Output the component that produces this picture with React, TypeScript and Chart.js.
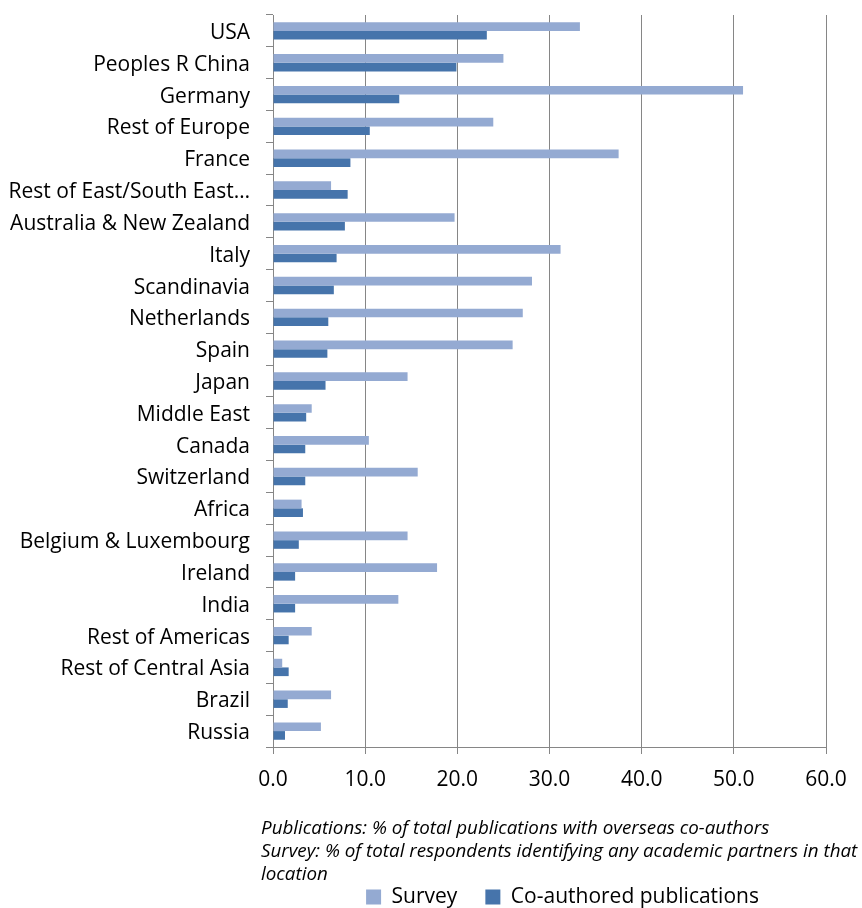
import React, { useEffect, useRef } from "react";
import { Chart, registerables } from "chart.js";

Chart.register(...registerables);

const categories = [
  "USA",
  "Peoples R China",
  "Germany",
  "Rest of Europe",
  "France",
  "Rest of East/South East…",
  "Australia & New Zealand",
  "Italy",
  "Scandinavia",
  "Netherlands",
  "Spain",
  "Japan",
  "Middle East",
  "Canada",
  "Switzerland",
  "Africa",
  "Belgium & Luxembourg",
  "Ireland",
  "India",
  "Rest of Americas",
  "Rest of Central Asia",
  "Brazil",
  "Russia",
];

const surveyValues = [
  33.3, 25.0, 51.0, 23.9, 37.5, 6.3, 19.7, 31.2, 28.1, 27.1, 26.0, 14.6, 4.2,
  10.4, 15.7, 3.1, 14.6, 17.8, 13.6, 4.2, 1.0, 6.3, 5.2,
];

const coauthoredValues = [
  23.2, 19.9, 13.7, 10.5, 8.4, 8.1, 7.8, 6.9, 6.6, 6.0, 5.9, 5.7, 3.6, 3.5, 3.5,
  3.25, 2.8, 2.4, 2.4, 1.7, 1.7, 1.6, 1.3,
];

const seriesNames = ["Survey", "Co-authored publications"];

const xMin = 0;
const xMax = 60;
const xStep = 10;

const footnoteLines = [
  "Publications: % of total publications with overseas co-authors",
  "Survey: % of total respondents identifying any academic partners in that",
  "location",
];

const FONT = "'Open Sans', Lato, 'DejaVu Sans', sans-serif";
const SURVEY_COLOR = "#94AAD2";
const COAUTH_COLOR = "#4674AB";
const GRID_COLOR = "#868686";
const LEGEND_PAD = 28;
const LEGEND_FONT = 21;
const AXIS_FONT = 21;
const PLOT_BOTTOM = 747;

export default function App() {
  const canvasRef = useRef<HTMLCanvasElement | null>(null);

  useEffect(() => {
    document.body.style.margin = "0";
    const canvas = canvasRef.current;
    if (!canvas) return;

    const footnotePlugin = {
      id: "footnote",
      afterDraw(chart: any) {
        const ctx = chart.ctx;
        const area = chart.chartArea;
        ctx.save();
        ctx.font = `italic 18.8px ${FONT}`;
        ctx.fillStyle = "#000";
        ctx.textAlign = "left";
        ctx.textBaseline = "middle";
        footnoteLines.forEach((t, i) => {
          ctx.fillText(t, area.left - 12, area.bottom + 82 + i * 23);
        });
        ctx.restore();
      },
    };

    const legendShiftPlugin = {
      id: "legendShift",
      afterLayout(chart: any) {
        const l = chart.legend;
        if (!l) return;
        const dx = 13;
        const targetCenter = chart.height - 11;
        const curCenter = l.top + LEGEND_PAD + LEGEND_FONT / 2;
        const dy = targetCenter - curCenter;
        l.left += dx;
        l.right += dx;
        l.top += dy;
        l.bottom += dy;
      },
    };

    const chart = new Chart(canvas, {
      type: "bar",
      data: {
        labels: categories,
        datasets: [
          {
            label: seriesNames[0],
            data: surveyValues,
            backgroundColor: SURVEY_COLOR,
            borderWidth: 0,
          },
          {
            label: seriesNames[1],
            data: coauthoredValues,
            backgroundColor: COAUTH_COLOR,
            borderWidth: 0,
          },
        ],
      },
      options: {
        indexAxis: "y",
        animation: false,
        responsive: false,
        devicePixelRatio: 1,
        layout: { padding: { left: 0, right: 36, top: 15, bottom: 0 } },
        datasets: {
          bar: { categoryPercentage: 0.545, barPercentage: 1 },
        },
        scales: {
          x: {
            type: "linear",
            min: xMin,
            max: xMax,
            ticks: {
              stepSize: xStep,
              color: "#000",
              font: { family: FONT, size: AXIS_FONT },
              padding: 13,
              callback: (v: any) => Number(v).toFixed(1),
            },
            grid: {
              color: GRID_COLOR,
              lineWidth: 1,
              drawTicks: true,
              tickLength: 7,
            },
            border: { color: GRID_COLOR, width: 1 },
            afterFit: (scale: any) => {
              scale.height = 908 - PLOT_BOTTOM - (LEGEND_FONT + LEGEND_PAD + 10);
            },
          },
          y: {
            type: "category",
            ticks: {
              autoSkip: false,
              color: "#000",
              font: { family: FONT, size: AXIS_FONT },
              padding: 16,
              labelOffset: 2,
            },
            grid: {
              offset: true,
              drawOnChartArea: false,
              drawTicks: true,
              tickLength: 7,
              color: GRID_COLOR,
            },
            border: { color: GRID_COLOR, width: 1 },
            afterFit: (scale: any) => {
              scale.width = 273;
              scale.paddingTop = 0;
              scale.paddingBottom = 0;
            },
          },
        },
        plugins: {
          legend: {
            display: true,
            position: "bottom",
            fullSize: false,
            labels: {
              boxWidth: 15,
              boxHeight: 15,
              padding: LEGEND_PAD,
              color: "#000",
              font: { family: FONT, size: LEGEND_FONT },
            },
          },
          tooltip: { enabled: false },
          title: { display: false },
        },
      },
      plugins: [footnotePlugin, legendShiftPlugin],
    } as any);

    return () => {
      chart.destroy();
    };
  }, []);

  return (
    <div style={{ width: 862, height: 908, position: "relative" }}>
      <canvas
        ref={canvasRef}
        width={862}
        height={908}
        style={{ display: "block", width: 862, height: 908 }}
      />
    </div>
  );
}
